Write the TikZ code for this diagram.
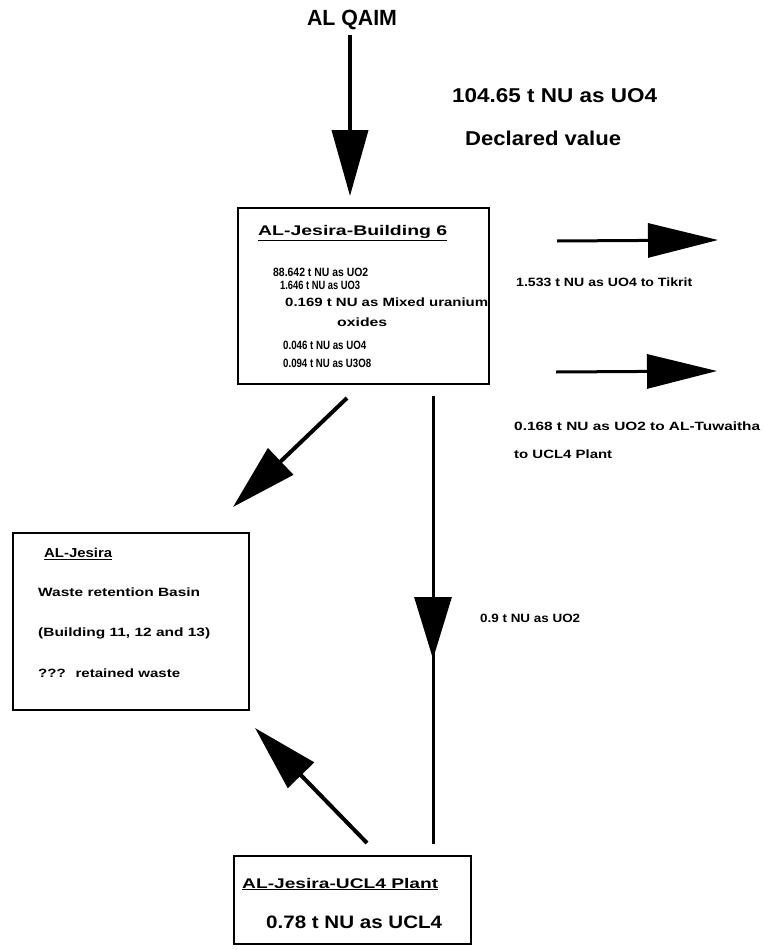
\documentclass[tikz,border=0pt]{standalone}
\usepackage{fontspec}
\setmainfont{Liberation Sans}
\usepackage{graphicx}
\usetikzlibrary{arrows.meta}
\newcommand{\wt}[3]{\resizebox{#1pt}{\height}{\fontsize{#2}{#2}\selectfont\bfseries #3}}
\tikzset{
  txt/.style={inner sep=0pt, anchor=west},
  boxst/.style={draw, line width=2.4pt, anchor=north west, inner sep=0pt},
  bigarrow/.style={line width=4pt, -{Triangle[length=66pt,width=36pt]}},
  sidearrow/.style={line width=3pt, -{Triangle[length=70pt,width=34pt]}},
  plainline/.style={line width=3pt},
}
\begin{document}
\begin{tikzpicture}[x=1pt,y=-1pt]
\fill[white] (0,0) rectangle (764,950);
\useasboundingbox (0,0) rectangle (764,950);

% top source and declared value
\node[txt, anchor=center] (qaim) at (352,20) {\wt{90}{22}{AL QAIM}};
\node[txt] (decl1) at (452,96) {\wt{205}{20}{104.65 t NU as UO4}};
\node[txt] (decl2) at (465,138) {\wt{156}{20}{Declared value}};

% box 1
\node[boxst, minimum width=251pt, minimum height=176pt] (b1) at (237,207) {};
\node[txt] (b1t) at (258,233) {\wt{189}{14}{\underline{AL-Jesira-Building 6}}};
\node[txt] (b1a) at (273,272) {\wt{95}{12}{88.642 t NU as UO2}};
\node[txt] (b1b) at (280,285) {\wt{80}{12}{1.646 t NU as UO3}};
\node[txt] (b1c) at (285,302) {\wt{203}{12}{0.169 t NU as Mixed uranium}};
\node[txt] (b1d) at (337,322) {\wt{50}{12}{oxides}};
\node[txt] (b1e) at (283,345) {\wt{83}{12}{0.046 t NU as UO4}};
\node[txt] (b1f) at (283,363) {\wt{88}{12}{0.094 t NU as U3O8}};

% box 2
\node[boxst, minimum width=236pt, minimum height=177pt] (b2) at (12,532) {};
\node[txt] (b2t) at (44,554) {\wt{68}{13}{\underline{AL-Jesira}}};
\node[txt] (b2a) at (38,592) {\wt{162}{12}{Waste retention Basin}};
\node[txt] (b2b) at (38,633) {\wt{172}{12}{(Building 11, 12 and 13)}};
\node[txt] (b2c) at (38,673) {\wt{142}{12}{??? \ retained waste}};

% box 3
\node[boxst, minimum width=237pt, minimum height=88pt] (b3) at (233,855) {};
\node[txt] (b3t) at (242,884) {\wt{196}{14}{\underline{AL-Jesira-UCL4 Plant}}};
\node[txt] (b3a) at (266,922) {\wt{176}{18}{0.78 t NU as UCL4}};

% side labels
\node[txt] (l1) at (516,282) {\wt{176}{12}{1.533 t NU as UO4 to Tikrit}};
\node[txt] (l2) at (514,426) {\wt{246}{12}{0.168 t NU as UO2 to AL-Tuwaitha}};
\node[txt] (l3) at (514,454) {\wt{98}{12}{to UCL4 Plant}};
\node[txt] (l4) at (480,618) {\wt{100}{12}{0.9 t NU as UO2}};

% connector endpoints
\coordinate (qs) at (350,35);
\coordinate (qe) at (350,196);
\coordinate (r1s) at (557,241);
\coordinate (r1e) at (718,240);
\coordinate (r2s) at (556,372);
\coordinate (r2e) at (717,371);
\coordinate (d1s) at (347,398);
\coordinate (d1e) at (233,507);
\coordinate (vs) at (433,396);
\coordinate (vm) at (433,659);
\coordinate (ve) at (433,844);
\coordinate (d2s) at (367,843);
\coordinate (d2e) at (255,728);

% connectors
\draw[bigarrow] (qs) -- (qe);
\draw[sidearrow] (r1s) -- (r1e);
\draw[sidearrow] (r2s) -- (r2e);
\draw[bigarrow] (d1s) -- (d1e);
\draw[plainline] (vs) -- (ve);
\draw[plainline, -{Triangle[length=62pt,width=37pt]}] (vs) -- (vm);
\draw[bigarrow] (d2s) -- (d2e);
\end{tikzpicture}
\end{document}
